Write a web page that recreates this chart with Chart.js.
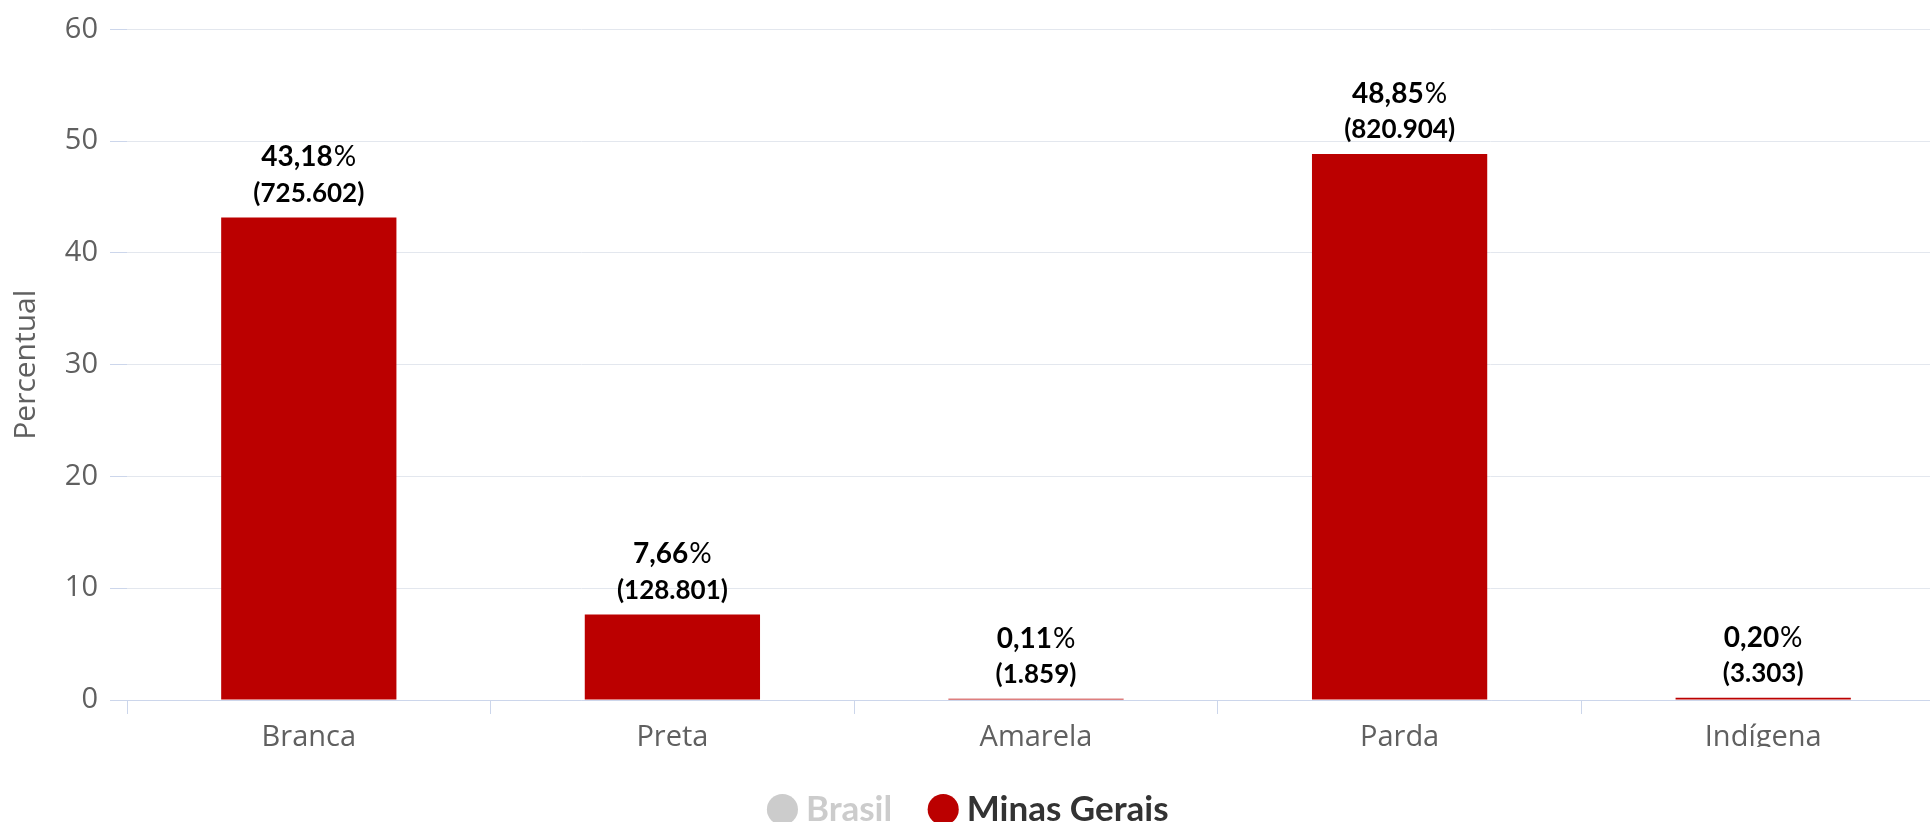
<!DOCTYPE html>
<html lang="pt-BR">
<head>
<meta charset="utf-8">
<title>Cor ou raça - Minas Gerais</title>
<script src="https://cdn.jsdelivr.net/npm/chart.js@4.4.1/dist/chart.umd.min.js"></script>
<style>
  html, body { margin: 0; padding: 0; background: #fff; overflow: hidden; }
  #wrap { position: relative; width: 1945px; height: 837px; }
</style>
</head>
<body>
<div id="wrap"><canvas id="chart"></canvas></div>
<script>
// Categories and values
const categories = ['Branca', 'Preta', 'Amarela', 'Parda', 'Indígena'];
const minasPercent = [43.18, 7.66, 0.11, 48.85, 0.20];
const minasCount = [725602, 128801, 1859, 820904, 3303];
const seriesNames = ['Brasil', 'Minas Gerais'];
const yMin = 0;
const yMax = 60;
const yStep = 10;

const FONT = "Lato, 'Open Sans', sans-serif";
const AXIS_FONT = "'Open Sans', Lato, sans-serif";
const RED = '#bb0000';
const GREY_TEXT = '#606060';

// pt-BR number formats
const fmtPercent = v => v.toFixed(2).replace('.', ',');
const fmtCount = n => String(n).replace(/\B(?=(\d{3})+(?!\d))/g, '.');

// Draws the two-line value label above each bar
const barLabels = {
  id: 'barLabels',
  afterDatasetsDraw(chart) {
    const ctx = chart.ctx;
    const meta = chart.getDatasetMeta(1);
    if (meta.hidden) return;
    meta.data.forEach((bar, i) => {
      const num = fmtPercent(minasPercent[i]);
      ctx.save();
      ctx.textBaseline = 'middle';
      ctx.fillStyle = '#000';

      // first line: bold number, lighter percent sign
      ctx.font = `bold 28px ${FONT}`;
      const wNum = ctx.measureText(num).width;
      ctx.font = `28px ${FONT}`;
      const wPct = ctx.measureText('%').width;
      const x0 = bar.x - (wNum + wPct + 1) / 2;
      ctx.textAlign = 'left';
      ctx.font = `bold 28px ${FONT}`;
      ctx.fillText(num, x0, bar.y - 60);
      ctx.font = `28px ${FONT}`;
      ctx.fillText('%', x0 + wNum + 1, bar.y - 60);

      // second line: absolute count
      ctx.textAlign = 'center';
      ctx.font = `bold 26px ${FONT}`;
      ctx.fillText('(' + fmtCount(minasCount[i]) + ')', bar.x, bar.y - 24);
      ctx.restore();
    });
  }
};

const ctx = document.getElementById('chart').getContext('2d');
const chart = new Chart(ctx, {
  type: 'bar',
  data: {
    labels: categories,
    datasets: [
      {
        label: seriesNames[0],
        data: [],
        backgroundColor: '#cccccc',
        hidden: true
      },
      {
        label: seriesNames[1],
        data: minasPercent,
        backgroundColor: RED,
        borderWidth: 0,
        categoryPercentage: 1,
        barPercentage: 0.482
      }
    ]
  },
  options: {
    responsive: true,
    maintainAspectRatio: false,
    animation: false,
    layout: {
      padding: { top: 24, right: 0, bottom: 0, left: 0 }
    },
    scales: {
      x: {
        afterFit: scale => { scale.height = 47; },
        grid: {
          drawOnChartArea: false,
          drawTicks: true,
          tickLength: 14,
          color: '#ccd6eb'
        },
        border: { display: true, color: '#ccd6eb', width: 1 },
        ticks: {
          color: GREY_TEXT,
          padding: 6,
          font: { family: AXIS_FONT, size: 29, weight: '500' }
        }
      },
      y: {
        min: yMin,
        max: yMax,
        afterFit: scale => { scale.width = 127; },
        ticks: {
          stepSize: yStep,
          color: GREY_TEXT,
          padding: 12,
          font: { family: AXIS_FONT, size: 29, weight: '500' }
        },
        grid: {
          color: '#e3e7ee',
          tickColor: '#ccd6eb',
          tickLength: 17
        },
        border: { display: false },
        title: {
          display: true,
          text: 'Percentual',
          color: GREY_TEXT,
          padding: { top: 8, bottom: 0 },
          font: { family: AXIS_FONT, size: 30, weight: '500' }
        }
      }
    },
    plugins: {
      tooltip: { enabled: false },
      legend: {
        display: true,
        position: 'bottom',
        labels: {
          usePointStyle: true,
          pointStyle: 'circle',
          boxWidth: 12,
          boxHeight: 22,
          padding: 45,
          font: { family: FONT, size: 35, weight: 'bold' },
          generateLabels: chart => chart.data.datasets.map((ds, i) => {
            const off = ds.hidden === true;
            return {
              text: ds.label,
              fillStyle: off ? '#cccccc' : RED,
              strokeStyle: off ? '#cccccc' : RED,
              lineWidth: 0,
              pointStyle: 'circle',
              fontColor: off ? '#cccccc' : '#333333',
              hidden: false,
              datasetIndex: i
            };
          })
        }
      }
    }
  },
  plugins: [barLabels]
});
</script>
</body>
</html>
